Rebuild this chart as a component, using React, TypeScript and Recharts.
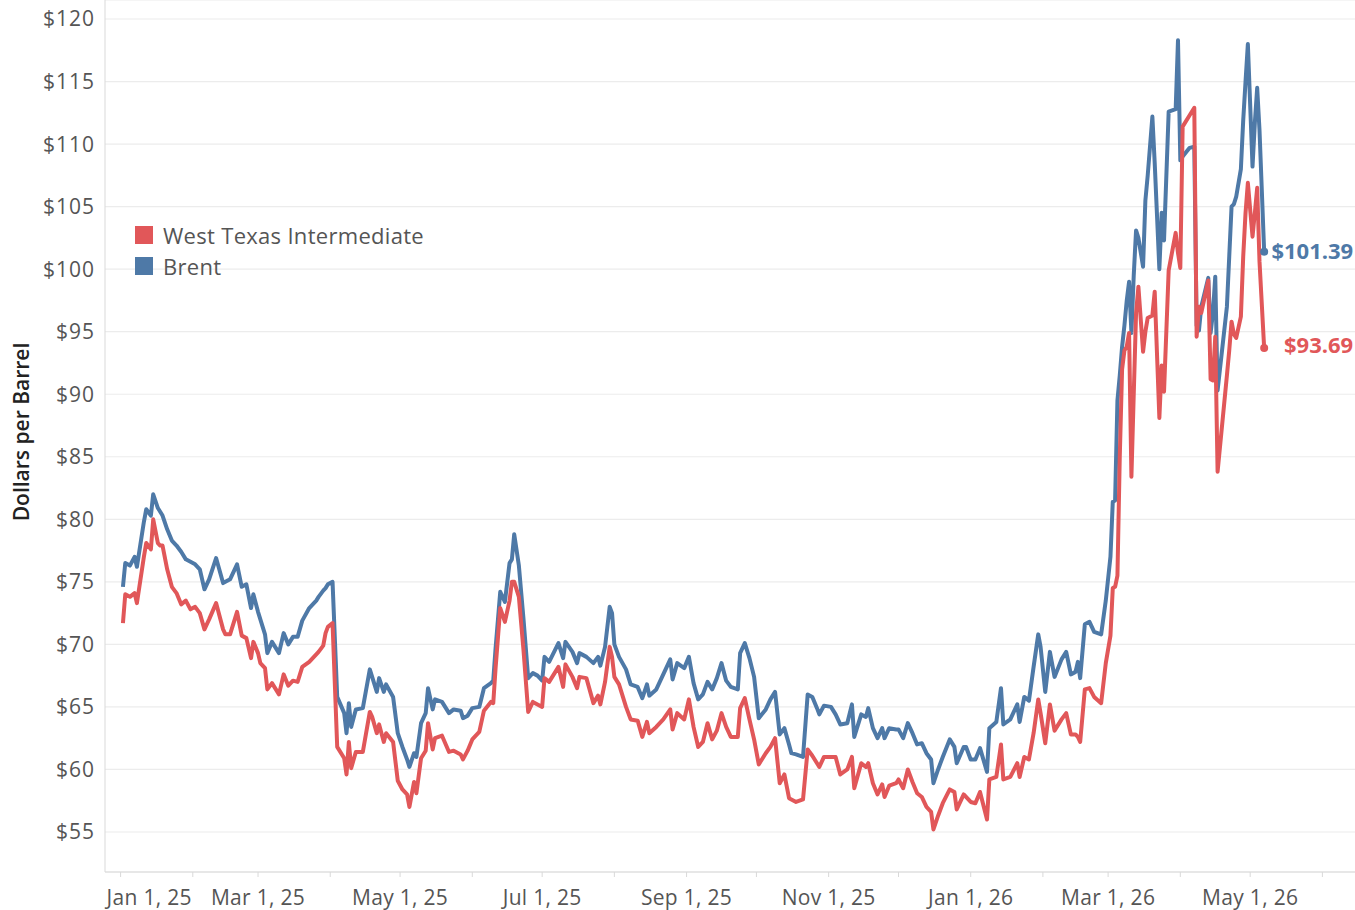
import { LineChart, Line, XAxis, YAxis, CartesianGrid, Legend, LabelList } from "recharts"

const dates = [
  "2025-01-02", "2025-01-03", "2025-01-05", "2025-01-07", "2025-01-08", "2025-01-11", "2025-01-12", "2025-01-14",
  "2025-01-15", "2025-01-17", "2025-01-18", "2025-01-19", "2025-01-21", "2025-01-23", "2025-01-25", "2025-01-27",
  "2025-01-29", "2025-01-31", "2025-02-02", "2025-02-04", "2025-02-06", "2025-02-08", "2025-02-11", "2025-02-14",
  "2025-02-15", "2025-02-17", "2025-02-20", "2025-02-22", "2025-02-24", "2025-02-26", "2025-02-27", "2025-03-01",
  "2025-03-02", "2025-03-04", "2025-03-05", "2025-03-07", "2025-03-10", "2025-03-12", "2025-03-14", "2025-03-16",
  "2025-03-18", "2025-03-20", "2025-03-23", "2025-03-26", "2025-03-27", "2025-03-29", "2025-03-30", "2025-03-31",
  "2025-04-02", "2025-04-04", "2025-04-07", "2025-04-08", "2025-04-09", "2025-04-10", "2025-04-12", "2025-04-15",
  "2025-04-18", "2025-04-19", "2025-04-21", "2025-04-22", "2025-04-24", "2025-04-25", "2025-04-28", "2025-04-30",
  "2025-05-02", "2025-05-04", "2025-05-05", "2025-05-07", "2025-05-08", "2025-05-10", "2025-05-12", "2025-05-13",
  "2025-05-15", "2025-05-16", "2025-05-19", "2025-05-22", "2025-05-24", "2025-05-27", "2025-05-28", "2025-05-30",
  "2025-06-01", "2025-06-04", "2025-06-06", "2025-06-09", "2025-06-10", "2025-06-11", "2025-06-13", "2025-06-15",
  "2025-06-17", "2025-06-18", "2025-06-19", "2025-06-21", "2025-06-23", "2025-06-25", "2025-06-27", "2025-06-29",
  "2025-07-01", "2025-07-02", "2025-07-04", "2025-07-08", "2025-07-10", "2025-07-11", "2025-07-14", "2025-07-16",
  "2025-07-17", "2025-07-20", "2025-07-23", "2025-07-25", "2025-07-26", "2025-07-28", "2025-07-30", "2025-07-31",
  "2025-08-01", "2025-08-03", "2025-08-06", "2025-08-08", "2025-08-11", "2025-08-13", "2025-08-15", "2025-08-16",
  "2025-08-19", "2025-08-22", "2025-08-25", "2025-08-26", "2025-08-28", "2025-08-31", "2025-09-02", "2025-09-04",
  "2025-09-06", "2025-09-08", "2025-09-10", "2025-09-12", "2025-09-14", "2025-09-16", "2025-09-18", "2025-09-20",
  "2025-09-23", "2025-09-24", "2025-09-26", "2025-09-28", "2025-09-30", "2025-10-02", "2025-10-05", "2025-10-07",
  "2025-10-09", "2025-10-11", "2025-10-13", "2025-10-15", "2025-10-16", "2025-10-18", "2025-10-21", "2025-10-23",
  "2025-10-25", "2025-10-27", "2025-10-28", "2025-10-30", "2025-11-02", "2025-11-04", "2025-11-06", "2025-11-09",
  "2025-11-11", "2025-11-12", "2025-11-15", "2025-11-17", "2025-11-18", "2025-11-20", "2025-11-22", "2025-11-24",
  "2025-11-25", "2025-11-27", "2025-11-30", "2025-12-01", "2025-12-03", "2025-12-05", "2025-12-07", "2025-12-09",
  "2025-12-11", "2025-12-13", "2025-12-15", "2025-12-16", "2025-12-18", "2025-12-20", "2025-12-23", "2025-12-25",
  "2025-12-26", "2025-12-29", "2025-12-30", "2026-01-01", "2026-01-03", "2026-01-05", "2026-01-08", "2026-01-09",
  "2026-01-12", "2026-01-14", "2026-01-15", "2026-01-18", "2026-01-21", "2026-01-22", "2026-01-24", "2026-01-26",
  "2026-01-28", "2026-01-30", "2026-01-31", "2026-02-02", "2026-02-04", "2026-02-06", "2026-02-09", "2026-02-11",
  "2026-02-13", "2026-02-15", "2026-02-16", "2026-02-17", "2026-02-19", "2026-02-21", "2026-02-23", "2026-02-26",
  "2026-02-28", "2026-03-02", "2026-03-03", "2026-03-04", "2026-03-05", "2026-03-06", "2026-03-07", "2026-03-08",
  "2026-03-09", "2026-03-10", "2026-03-11", "2026-03-12", "2026-03-13", "2026-03-14", "2026-03-16", "2026-03-17",
  "2026-03-18", "2026-03-20", "2026-03-21", "2026-03-23", "2026-03-24", "2026-03-25", "2026-03-27", "2026-03-30",
  "2026-03-31", "2026-04-01", "2026-04-02", "2026-04-05", "2026-04-07", "2026-04-08", "2026-04-09", "2026-04-10",
  "2026-04-13", "2026-04-14", "2026-04-15", "2026-04-16", "2026-04-17", "2026-04-21", "2026-04-22", "2026-04-23",
  "2026-04-24", "2026-04-25", "2026-04-27", "2026-04-28", "2026-04-29", "2026-04-30", "2026-05-02", "2026-05-03",
  "2026-05-04", "2026-05-05", "2026-05-07",
]

const wti = [
  71.7, 74.0, 73.8, 74.1, 73.3, 77.0, 78.1, 77.6,
  80.0, 78.1, 77.9, 77.9, 76.0, 74.6, 74.1, 73.2,
  73.5, 72.8, 73.0, 72.5, 71.2, 72.0, 73.3, 71.2,
  70.8, 70.8, 72.6, 70.7, 70.5, 68.9, 70.2, 69.3,
  68.5, 68.1, 66.4, 66.9, 66.0, 67.6, 66.7, 67.1,
  67.0, 68.2, 68.6, 69.2, 69.4, 69.9, 70.9, 71.4,
  71.7, 61.8, 60.9, 59.6, 62.2, 60.1, 61.4, 61.4,
  64.6, 64.2, 62.9, 63.6, 62.2, 62.9, 62.2, 59.1,
  58.4, 58.0, 57.0, 59.0, 58.1, 60.9, 61.5, 63.7,
  61.6, 62.5, 62.7, 61.4, 61.5, 61.2, 60.8, 61.5,
  62.4, 63.0, 64.7, 65.4, 65.3, 68.1, 72.9, 71.8,
  73.5, 75.0, 75.0, 73.8, 69.5, 64.6, 65.4, 65.2,
  65.0, 67.3, 67.0, 68.2, 66.6, 68.4, 67.4, 66.5,
  67.4, 67.3, 65.3, 65.9, 65.2, 67.0, 69.8, 69.0,
  67.4, 66.8, 65.0, 64.0, 63.9, 62.6, 63.8, 62.9,
  63.4, 64.0, 64.8, 63.2, 64.5, 64.0, 65.6, 63.4,
  61.8, 62.2, 63.7, 62.4, 63.1, 64.5, 63.4, 62.6,
  62.6, 64.9, 65.7, 64.0, 62.4, 60.4, 61.3, 61.8,
  62.5, 58.9, 59.6, 57.7, 57.6, 57.4, 57.6, 61.6,
  61.1, 60.5, 60.2, 61.0, 61.0, 61.0, 59.6, 60.0,
  61.0, 58.5, 60.5, 60.2, 60.5, 58.9, 58.0, 58.8,
  57.8, 58.7, 58.9, 59.2, 58.5, 60.0, 59.0, 58.1,
  57.8, 57.0, 56.6, 55.2, 56.3, 57.3, 58.4, 58.2,
  56.8, 58.0, 57.8, 57.4, 57.3, 58.2, 56.0, 59.2,
  59.4, 62.0, 59.2, 59.4, 60.5, 59.4, 61.0, 60.8,
  62.9, 65.6, 64.5, 62.1, 65.2, 63.1, 64.0, 64.5,
  62.8, 62.8, 62.6, 62.2, 66.4, 66.5, 65.8, 65.3,
  68.5, 70.7, 74.5, 74.6, 75.5, 85.0, 92.0, 93.5,
  93.8, 94.9, 83.4, 90.0, 96.5, 98.6, 93.4, 95.0,
  96.1, 96.3, 98.2, 88.1, 92.3, 90.2, 99.9, 102.9,
  101.3, 100.1, 111.4, 112.3, 112.9, 94.6, 97.0, 96.5,
  99.1, 91.2, 91.1, 94.6, 83.8, 91.5, 93.5, 95.8,
  94.8, 94.5, 96.2, 101.0, 104.5, 106.9, 102.6, 104.5,
  106.5, 100.6, 93.69,
]

const brent = [
  74.6, 76.5, 76.3, 77.0, 76.2, 79.8, 80.8, 80.3,
  82.0, 80.9, 80.6, 80.3, 79.2, 78.3, 77.9, 77.4,
  76.8, 76.6, 76.4, 76.0, 74.4, 75.2, 76.9, 74.9,
  75.0, 75.2, 76.4, 74.6, 74.8, 72.9, 74.0, 72.6,
  72.0, 70.8, 69.3, 70.2, 69.3, 70.9, 70.0, 70.6,
  70.6, 71.9, 72.9, 73.5, 73.8, 74.3, 74.5, 74.8,
  75.0, 65.8, 64.5, 62.9, 65.3, 63.4, 64.8, 64.9,
  68.0, 67.4, 66.2, 67.3, 66.2, 66.8, 65.8, 62.9,
  61.8, 60.8, 60.2, 61.3, 61.0, 63.7, 64.5, 66.5,
  64.8, 65.6, 65.4, 64.5, 64.8, 64.7, 64.1, 64.3,
  64.9, 65.0, 66.5, 66.9, 67.1, 69.7, 74.2, 73.4,
  76.5, 76.8, 78.8, 76.3, 72.0, 67.3, 67.7, 67.5,
  67.1, 69.0, 68.6, 70.1, 68.9, 70.2, 69.4, 68.5,
  69.3, 69.0, 68.5, 69.0, 68.3, 69.8, 73.0, 72.5,
  70.0, 69.0, 68.0, 66.8, 66.6, 65.7, 66.8, 65.9,
  66.4, 67.6, 68.8, 67.2, 68.5, 68.1, 69.0, 66.9,
  65.6, 66.0, 67.0, 66.4, 67.3, 68.5, 67.1, 66.6,
  66.4, 69.3, 70.1, 68.9, 67.4, 64.1, 64.8, 65.6,
  66.2, 62.8, 63.3, 62.0, 61.3, 61.2, 61.0, 66.0,
  65.8, 64.9, 64.4, 65.1, 65.0, 64.4, 63.6, 63.7,
  65.2, 62.6, 64.4, 64.2, 64.9, 63.3, 62.5, 63.3,
  62.5, 63.3, 63.2, 63.2, 62.5, 63.7, 62.9, 62.0,
  62.1, 61.3, 60.8, 58.9, 60.0, 61.0, 62.4, 61.8,
  60.5, 61.8, 61.8, 60.8, 60.8, 61.7, 59.8, 63.3,
  63.8, 66.5, 63.6, 64.0, 65.2, 63.8, 65.8, 65.5,
  68.2, 70.8, 69.8, 66.2, 69.4, 67.4, 68.8, 69.4,
  67.6, 67.8, 68.6, 67.3, 71.6, 71.8, 71.0, 70.8,
  73.5, 77.0, 81.4, 81.5, 89.5, 91.5, 93.8, 95.5,
  97.5, 99.0, 94.9, 99.5, 103.1, 102.5, 100.2, 105.5,
  107.5, 112.2, 108.5, 100.0, 104.5, 102.3, 112.6, 112.8,
  118.3, 108.7, 109.0, 109.7, 109.8, 95.5, 95.1, 97.0,
  99.3, 94.9, 96.5, 99.4, 90.3, 97.0, 101.0, 105.0,
  105.2, 105.8, 108.0, 111.9, 115.0, 118.0, 108.2, 111.7,
  114.5, 111.1, 101.39,
]

const yTicks = [55, 60, 65, 70, 75, 80, 85, 90, 95, 100, 105, 110, 115, 120]
const monthNames = ["Jan", "Feb", "Mar", "Apr", "May", "Jun", "Jul", "Aug", "Sep", "Oct", "Nov", "Dec"]

const DAY = 86400000
const start = Date.UTC(2025, 0, 1)

const data = dates.map((d, i) => ({
  t: Date.parse(d + "T00:00:00Z"),
  wti: wti[i],
  brent: brent[i],
}))

// month starts Jan 2025 .. Jun 2026, labels on every other month
const monthTicks: number[] = []
for (let m = 0; m < 18; m++) monthTicks.push(Date.UTC(2025, m, 1))

const FONT = "'Open Sans', sans-serif"
const RED = "#e15759"
const BLUE = "#4e79a7"

function XTick(props: any) {
  const { x, y, payload, index } = props
  const dt = new Date(payload.value)
  const m = dt.getUTCMonth()
  if (m % 2 !== 0) return null
  const label = `${monthNames[m]} 1, ${String(dt.getUTCFullYear()).slice(2)}`
  const first = index === 0
  return (
    <text
      x={first ? x - 14 : x}
      y={y}
      dy="0.71em"
      textAnchor={first ? "start" : "middle"}
      fill="#555"
      fontSize={21}
      letterSpacing={0.3}
      fontFamily={FONT}
    >
      {label}
    </text>
  )
}

function YLabel(props: any) {
  const { viewBox } = props
  const cx = viewBox.x + 21
  const cy = viewBox.y + viewBox.height / 2 - 4
  return (
    <text
      x={cx}
      y={cy}
      transform={`rotate(-90, ${cx}, ${cy})`}
      textAnchor="middle"
      dominantBaseline="central"
      fill="#222"
      fontSize={21}
      fontWeight={600}
      fontFamily={FONT}
    >
      Dollars per Barrel
    </text>
  )
}

const endLabel = (color: string, shift: number) => (props: any) => {
  const { x, y, index, value } = props
  if (index !== data.length - 1) return null
  return (
    <g>
      <circle cx={x} cy={y} r={4} fill={color} />
      <text
        x={x + 89}
        y={y + shift}
        dy="0.35em"
        textAnchor="end"
        fill={color}
        fontSize={22}
        fontWeight={700}
        fontFamily={FONT}
      >
        ${Number(value).toFixed(2)}
      </text>
    </g>
  )
}

function LegendBox() {
  const items = [
    { name: "West Texas Intermediate", color: RED },
    { name: "Brent", color: BLUE },
  ]
  return (
    <div style={{ fontFamily: FONT, fontSize: 22, color: "#555", letterSpacing: 0.3 }}>
      {items.map((it) => (
        <div key={it.name} style={{ display: "flex", alignItems: "center", height: 31 }}>
          <span style={{ width: 18, height: 18, background: it.color, display: "inline-block", marginRight: 10 }} />
          <span>{it.name}</span>
        </div>
      ))}
    </div>
  )
}

export default function App() {
  return (
    <div style={{ position: "absolute", left: 0, top: 0, background: "#fff" }}>
      <LineChart
        width={1355}
        height={910}
        data={data}
        margin={{ top: 0, right: 0, bottom: 0, left: 0 }}
      >
        <CartesianGrid horizontal vertical={false} stroke="#ececec" strokeWidth={1.2} />
        <XAxis
          dataKey="t"
          type="number"
          scale="time"
          domain={[start - 6.7 * DAY, start + 530 * DAY]}
          ticks={monthTicks}
          tick={<XTick />}
          tickSize={5}
          tickMargin={13}
          tickLine={{ stroke: "#d9d9d9" }}
          axisLine={{ stroke: "#d9d9d9" }}
          height={38}
          interval={0}
          allowDataOverflow
        />
        <YAxis
          type="number"
          domain={[51.8, 121.52]}
          ticks={yTicks}
          tickFormatter={(v) => `$${v}`}
          tick={{ fill: "#555", fontSize: 21, fontFamily: FONT, letterSpacing: 1 }}
          tickLine={false}
          tickSize={8}
          axisLine={{ stroke: "#d9d9d9" }}
          width={105}
          interval={0}
          allowDataOverflow
          label={<YLabel />}
        />
        <Legend
          layout="vertical"
          align="center"
          verticalAlign="middle"
          wrapperStyle={{ left: 135, top: 219, width: 340 }}
          content={<LegendBox />}
        />
        <Line
          type="linear"
          dataKey="brent"
          name="Brent"
          stroke={BLUE}
          strokeWidth={4}
          strokeLinejoin="round"
          dot={false}
          activeDot={false}
          isAnimationActive={false}
        >
          <LabelList dataKey="brent" content={endLabel(BLUE, 0)} />
        </Line>
        <Line
          type="linear"
          dataKey="wti"
          name="West Texas Intermediate"
          stroke={RED}
          strokeWidth={4}
          strokeLinejoin="round"
          dot={false}
          activeDot={false}
          isAnimationActive={false}
        >
          <LabelList dataKey="wti" content={endLabel(RED, -3)} />
        </Line>
      </LineChart>
    </div>
  )
}
